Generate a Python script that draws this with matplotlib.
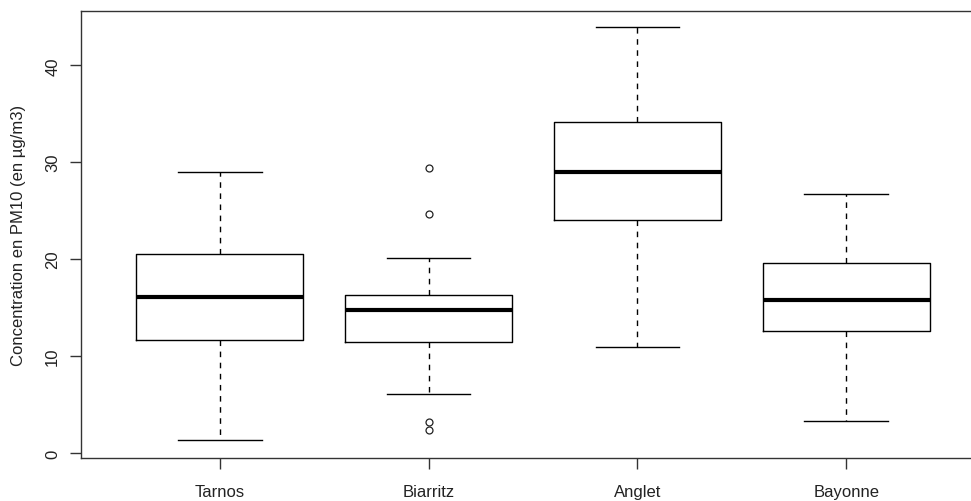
import matplotlib
matplotlib.use("Agg")
from matplotlib import pyplot as plt

# values
sites = ["Tarnos", "Biarritz", "Anglet", "Bayonne"]
whisker_low = [1.3, 6.1, 10.9, 3.3]
q1 = [11.7, 11.4, 24.0, 12.6]
medians = [16.1, 14.8, 29.0, 15.8]
q3 = [20.5, 16.3, 34.1, 19.6]
whisker_high = [29.0, 20.1, 43.9, 26.7]
outliers = [[], [29.4, 24.7, 3.2, 2.4], [], []]

plt.rcParams['font.family'] = ['Liberation Sans', 'DejaVu Sans']

fig = plt.figure(figsize=(9.71, 5.02), dpi=100)
# the reference is cropped on the right, so the axes runs past the figure edge
ax = fig.add_axes([81 / 971, 43 / 502, 904 / 971, 447 / 502])

stats = []
for i, name in enumerate(sites):
    stats.append(dict(label=name, whislo=whisker_low[i], q1=q1[i], med=medians[i],
                      q3=q3[i], whishi=whisker_high[i], fliers=outliers[i]))

ax.bxp(stats, positions=range(1, len(sites) + 1), widths=0.8,
       boxprops=dict(color='black', linewidth=1),
       medianprops=dict(color='black', linewidth=3, solid_capstyle='butt'),
       whiskerprops=dict(color='black', linewidth=1, linestyle=(0, (4, 4))),
       capprops=dict(color='black', linewidth=1),
       capwidths=0.4,
       flierprops=dict(marker='o', markerfacecolor='none', markeredgecolor='#222222',
                       markersize=5, markeredgewidth=0.9))

ax.set_xlim(0.335, 4.665)
ax.set_ylim(-0.52, 45.6)
ax.set_yticks([0, 10, 20, 30, 40])
ax.set_yticklabels(["0", "10", "20", "30", "40"], rotation=90, va='center')
ax.set_ylabel("Concentration en PM10 (en µg/m3)", fontsize=12, color='#222222', labelpad=14)
ax.tick_params(axis='both', labelsize=12, length=8, width=1, color='#333333',
               labelcolor='#222222')
ax.tick_params(axis='x', pad=11)
ax.tick_params(axis='y', pad=7)
for s in ax.spines.values():
    s.set_color('#333333')
    s.set_linewidth(1)

fig.savefig("out.png", dpi=100)
